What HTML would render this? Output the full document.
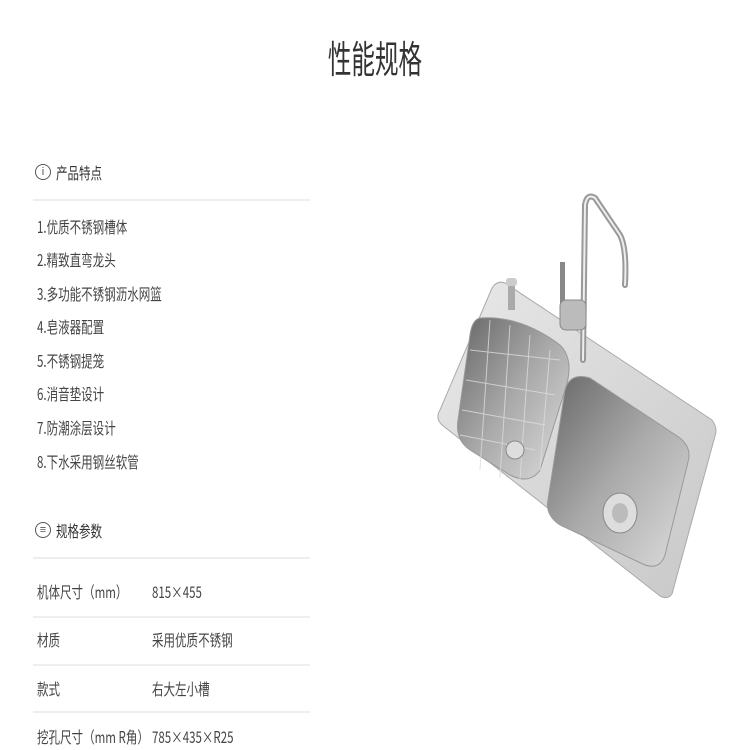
<!DOCTYPE html>
<html><head><meta charset="utf-8"><style>
body{margin:0;width:750px;height:750px;background:#fff;position:relative;overflow:hidden;font-family:"Noto Sans CJK SC","Liberation Sans",sans-serif;color:#444}
.t{position:absolute;white-space:nowrap;transform-origin:0 50%;line-height:20px}
.title{position:absolute;left:0;width:750px;top:32px;text-align:center;font-size:38px;line-height:50px;color:#333;transform:scaleX(0.62)}
.line{position:absolute;left:33px;width:277px;height:2px;background:#eee}
.f{font-size:16px;transform:scaleX(0.72)}
.icon{position:absolute;width:14px;height:14px;border:1.5px solid #555;border-radius:50%;font-size:11px;text-align:center;line-height:14px;color:#555;font-family:"Liberation Sans",sans-serif}
</style></head><body>
<div class="title">性能规格</div>

<div class="icon" style="left:35px;top:164px">i</div>
<div class="t f" style="left:56px;top:162px;color:#333">产品特点</div>
<div class="line" style="top:199px"></div>
<div class="t f" style="left:37px;top:216px">1.优质不锈钢槽体</div>
<div class="t f" style="left:37px;top:249px">2.精致直弯龙头</div>
<div class="t f" style="left:37px;top:283px">3.多功能不锈钢沥水网篮</div>
<div class="t f" style="left:37px;top:316px">4.皂液器配置</div>
<div class="t f" style="left:37px;top:350px">5.不锈钢提笼</div>
<div class="t f" style="left:37px;top:383px">6.消音垫设计</div>
<div class="t f" style="left:37px;top:417px">7.防潮涂层设计</div>
<div class="t f" style="left:37px;top:451px">8.下水采用钢丝软管</div>

<div class="icon" style="left:35px;top:522px">≡</div>
<div class="t f" style="left:56px;top:520px;color:#333">规格参数</div>
<div class="line" style="top:557px"></div>
<div class="t f" style="left:37px;top:581px">机体尺寸（mm）</div><div class="t f" style="left:152px;top:581px">815×455</div>
<div class="line" style="top:616px"></div>
<div class="t f" style="left:37px;top:629px">材质</div><div class="t f" style="left:152px;top:629px">采用优质不锈钢</div>
<div class="line" style="top:664px"></div>
<div class="t f" style="left:37px;top:678px">款式</div><div class="t f" style="left:152px;top:678px">右大左小槽</div>
<div class="line" style="top:711px"></div>
<div class="t f" style="left:37px;top:726px">挖孔尺寸（mm R角）</div><div class="t f" style="left:152px;top:726px">785×435×R25</div>

<svg style="position:absolute;left:0;top:0" width="750" height="750">
<defs>
<linearGradient id="g1" x1="0" y1="0" x2="1" y2="1"><stop offset="0" stop-color="#e8e8e8"/><stop offset="1" stop-color="#c8c8c8"/></linearGradient>
<linearGradient id="g2" x1="0" y1="0" x2="1" y2="1"><stop offset="0" stop-color="#666"/><stop offset="0.5" stop-color="#aaa"/><stop offset="1" stop-color="#ddd"/></linearGradient>
</defs>
<path d="M505 283 L712 420 Q718 428 715 436 L672 594 Q668 600 660 596 L442 425 Q435 418 440 410 L492 288 Q497 280 505 283Z" fill="url(#g1)" stroke="#aaa"/>
<path d="M480 318 Q520 315 560 345 Q575 360 565 390 L540 470 Q530 485 510 475 L470 450 Q455 440 458 420 L470 335 Q472 320 480 318Z" fill="url(#g2)" stroke="#999"/>
<g stroke="#ddd" stroke-width="1" fill="none" opacity="0.8">
<path d="M470 350 L560 360 M466 380 L555 395 M462 410 L545 425 M460 435 L535 450"/>
<path d="M490 320 L480 470 M510 325 L500 478 M530 335 L520 480 M550 350 L540 470"/>
</g>
<circle cx="515" cy="450" r="9" fill="#ddd" stroke="#888"/>
<path d="M590 378 L680 438 Q692 448 688 462 L665 555 Q660 570 645 565 L560 525 Q545 515 548 500 L565 390 Q570 372 590 378Z" fill="url(#g2)" stroke="#999"/>
<ellipse cx="620" cy="513" rx="17" ry="20" fill="#ddd" stroke="#888"/>
<ellipse cx="620" cy="513" rx="8" ry="10" fill="#bbb"/>
<path d="M583 360 L585 205 Q587 193 595 198 L620 235 Q627 248 625 285" stroke="#999" stroke-width="6" fill="none" stroke-linecap="round"/>
<path d="M583 360 L585 205 Q587 193 595 198 L620 235 Q627 248 625 285" stroke="#eee" stroke-width="2" fill="none" stroke-linecap="round"/>
<rect x="560" y="262" width="5" height="50" fill="#888"/>
<rect x="560" y="300" width="26" height="30" rx="6" fill="#bbb" stroke="#888"/>
<rect x="508" y="282" width="7" height="28" fill="#aaa"/><rect x="506" y="278" width="11" height="8" rx="3" fill="#ccc"/>
</svg>
</body></html>
